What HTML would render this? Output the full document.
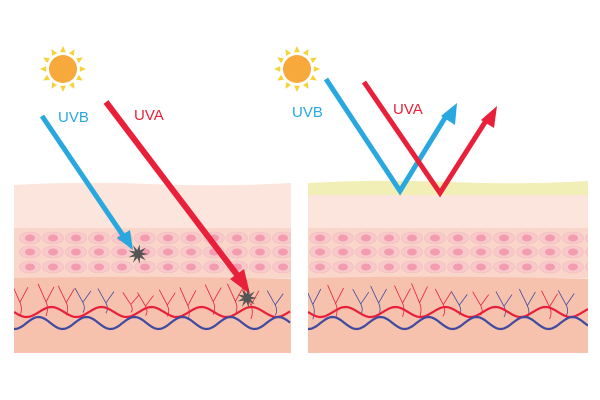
<!DOCTYPE html>
<html><head><meta charset="utf-8"><style>html,body{margin:0;padding:0;background:#fff}svg{display:block}text{font-family:"Liberation Sans",sans-serif}</style></head>
<body>
<svg id="s" width="600" height="400" viewBox="0 0 600 400" xmlns="http://www.w3.org/2000/svg">
<defs>
<clipPath id="c1"><rect x="14" y="183" width="277" height="170"/></clipPath>
<clipPath id="c2"><rect x="308" y="181" width="280" height="172"/></clipPath>
</defs>
<path d="M14 185 Q80 181 150 184 T291 183 L291 353 L14 353Z" fill="#fbe5dc"/>
<rect x="14" y="228" width="277" height="50" fill="#f9d6c9"/>
<path d="M14 278 Q150 275 291 279 L291 353 L14 353Z" fill="#f7c2ad"/>
<g id="cellsL" clip-path="url(#c1)"></g>
<g id="vesL" clip-path="url(#c1)"></g>
<rect x="308" y="194" width="280" height="159" fill="#fbe5dc"/>
<path d="M308 183 Q380 179 450 182 T588 181 L588 195 L308 195Z" fill="#f1efb5"/>
<rect x="308" y="228" width="280" height="50" fill="#f9d6c9"/>
<path d="M308 278 Q450 275 588 279 L588 353 L308 353Z" fill="#f7c2ad"/>
<g id="cellsR" clip-path="url(#c2)"></g>
<g id="vesR" clip-path="url(#c2)"></g>
<g id="sun1" transform="translate(63,69)"></g>
<g id="sun2" transform="translate(297,69)"></g>
<text x="58" y="122" font-size="15" fill="#29a8e0">UVB</text>
<text x="134" y="120" font-size="15" fill="#e8203a">UVA</text>
<text x="292" y="117" font-size="15" fill="#29a8e0">UVB</text>
<text x="393" y="114" font-size="15" fill="#e8203a">UVA</text>
<line x1="42" y1="116" x2="124" y2="237" stroke="#29a8e0" stroke-width="5"/>
<polygon points="133,250 117,238 130,230" fill="#29a8e0"/>
<line x1="106" y1="102" x2="238" y2="276" stroke="#e8203a" stroke-width="6"/>
<polygon points="250,294 230,279 244,269" fill="#e8203a"/>
<g id="starA" transform="translate(138,254)"></g>
<g id="starB" transform="translate(247,298)"></g>
<polyline points="326,79 400,191 448,113" fill="none" stroke="#29a8e0" stroke-width="5"/>
<polygon points="457,103 455,125 441,116" fill="#29a8e0"/>
<polyline points="364,82 440,193 489,116" fill="none" stroke="#e8203a" stroke-width="5"/>
<polygon points="497,106 494,128 481,120" fill="#e8203a"/>
</svg>
<script>
const NS="http://www.w3.org/2000/svg";
function el(p,t,a){const e=document.createElementNS(NS,t);for(const k in a)e.setAttribute(k,a[k]);p.appendChild(e);return e;}
function cells(id,x0,x1){const g=document.getElementById(id);
 [238,252,267].forEach(y=>{for(let x=x0;x<x1;x+=23){
  el(g,"ellipse",{cx:x,cy:y,rx:10.5,ry:6,fill:"#f7c9cb",stroke:"#f4b8bd","stroke-width":0.6});
  el(g,"ellipse",{cx:x,cy:y,rx:5,ry:3.5,fill:"#f39cb0"});}});}
cells("cellsL",30,300);cells("cellsR",320,600);
function wave(x0,x1,y,a,ph,w){let d="M"+x0+" "+(y+a*Math.sin(ph));for(let x=x0;x<=x1;x+=2){d+=" L"+x+" "+(y+a*Math.sin((x-x0)/w*2*Math.PI+ph)).toFixed(1);}return d;}
function vessels(id,x0,x1,seed){const g=document.getElementById(id);
 let r=seed;const rnd=()=>{r=(r*9301+49297)%233280;return r/233280;};
 for(let x=x0+8;x<x1;x+=21){const red=rnd()<0.6;const c=red?"#e8203a":"#3f4aa0";
  const by=312+rnd()*8, ty=283+rnd()*10, bx=x+rnd()*8-4;
  const my=(by+ty)/2+2;
  el(g,"path",{d:`M${bx} ${by} Q${bx+3} ${my+6} ${bx} ${my} L${bx-8} ${ty} M${bx} ${my} L${bx+8} ${ty+3}`,fill:"none",stroke:c,"stroke-width":0.8});}
 el(g,"path",{d:wave(x0,x1,312,5,0,50),fill:"none",stroke:"#e8203a","stroke-width":2.2});
 el(g,"path",{d:wave(x0,x1,323,6,1.5,48),fill:"none",stroke:"#3f4aa0","stroke-width":2.2});}
vessels("vesL",14,291,7);vessels("vesR",308,588,11);
function sun(id){const g=document.getElementById(id);
 for(let i=0;i<12;i++){const a=i*Math.PI/6;const p=(r,da)=>[(r*Math.cos(a+da)).toFixed(1),(r*Math.sin(a+da)).toFixed(1)].join(",");
  el(g,"polygon",{points:p(17,-0.17)+" "+p(23,0)+" "+p(17,0.17),fill:"#f5d33a"});}
 el(g,"circle",{r:14,fill:"#f7a93c"});}
sun("sun1");sun("sun2");
function star(id){const g=document.getElementById(id);let pts=[];
 for(let i=0;i<18;i++){const a=i*Math.PI/9;const r=i%2?4:10;pts.push((r*Math.cos(a)).toFixed(1)+","+(r*Math.sin(a)).toFixed(1));}
 el(g,"polygon",{points:pts.join(" "),fill:"#555"});}
star("starA");star("starB");
</script>
</body></html>
